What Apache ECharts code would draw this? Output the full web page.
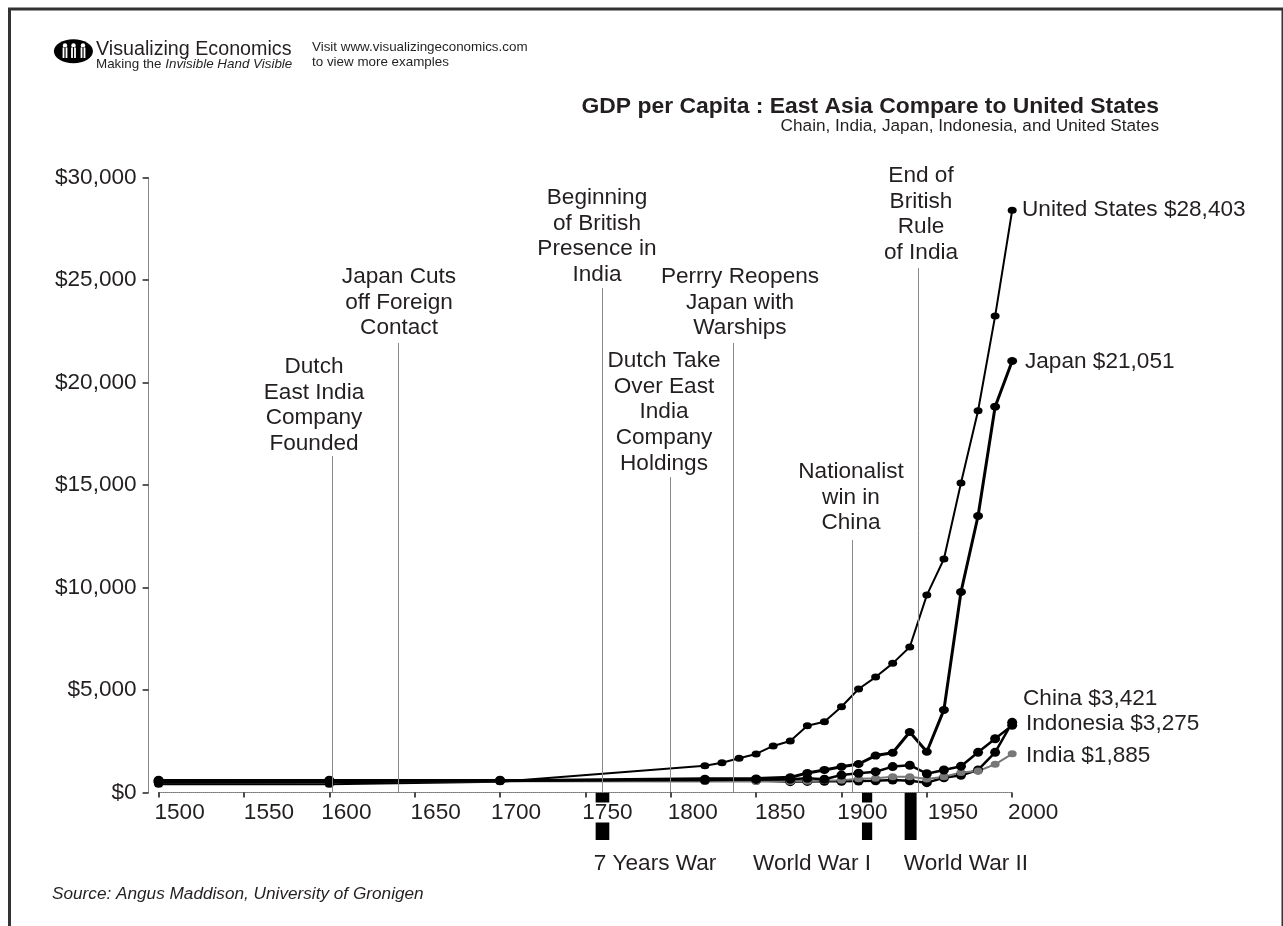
<!DOCTYPE html>
<html>
<head>
<meta charset="utf-8">
<style>html,body{margin:0;padding:0;background:#fff}#chart{width:1283px;height:926px}</style>
<script src="https://cdn.jsdelivr.net/npm/echarts@6/dist/echarts.min.js"></script>
</head>
<body>
<div id="chart"></div>
<script>
// GDP per capita, East Asia against the United States (Maddison estimates)
const usYears = [1500,1600,1700,1820,1830,1840,1850,1860,1870,1880,1890,1900,1910,1920,1930,1940,1950,1960,1970,1980,1990,2000];
const usValues = [400,400,527,1300,1450,1670,1880,2270,2510,3260,3450,4185,5050,5630,6300,7100,9630,11390,15100,18620,23240,28403];
const asiaYears = [1500,1600,1700,1820,1850,1870,1880,1890,1900,1910,1920,1930,1940,1950,1960,1970,1980,1990,2000];
const japanValues = [500,520,570,670,680,740,950,1100,1260,1390,1800,1940,2950,1990,4030,9780,13490,18820,21051];
const indonesiaValues = [565,565,580,612,640,650,690,645,850,940,1015,1263,1330,917,1100,1285,1960,2620,3275];
const chinaValues = [600,600,600,600,600,530,540,545,545,560,570,610,575,480,720,840,1100,1960,3421];
const indiaValues = [550,550,550,533,533,533,550,580,600,670,700,770,770,660,770,980,1050,1375,1885];

const xTicks = [1500,1550,1600,1650,1700,1750,1800,1850,1900,1950,2000];
const xLabelShift = [21,25,17,21,16,22,22,24,21,26,21];

const eventYears = [1602,1640.5,1760,1799.5,1836.5,1906.5,1945];
const eventTops = [16415,21930,24610,15390,21930,12317,25585];
const eventLabels = [
  'Dutch\nEast India\nCompany\nFounded',
  'Japan Cuts\noff Foreign\nContact',
  'Beginning\nof British\nPresence in\nIndia',
  'Dutch Take\nOver East\nIndia\nCompany\nHoldings',
  'Perrry Reopens\nJapan with\nWarships',
  'Nationalist\nwin in\nChina',
  'End of\nBritish\nRule\nof India'
];
const eventLabelX = [314,399,597,664,740,851,921];
const eventLabelY = [354,264,185,348,264,459,163];

const warNames = ['7 Years War','World War I','World War II'];
const warStart = [1756,1912,1937];
const warEnd = [1764,1918,1944];

const INK = '#231f20';
const FAMILY = '"Liberation Sans", Arial, sans-serif';
const BIG = 22.6;

function pairs(xs, ys) { return xs.map((x, i) => [x, ys[i]]); }

function lineSeries(name, years, values, color, width, size) {
  return {
    name, type: 'line', data: pairs(years, values), xAxisIndex: 0, yAxisIndex: 0,
    symbol: 'circle', symbolSize: size, showSymbol: true, showAllSymbols: true,
    animation: false, silent: true, z: 3,
    lineStyle: { color, width }, itemStyle: { color }
  };
}

function text(str, x, y, size, opts) {
  return {
    type: 'text', silent: true, z: 20,
    style: Object.assign({
      text: str, x, y, fill: INK, textAlign: 'left', textVerticalAlign: 'middle',
      font: size + 'px ' + FAMILY
    }, opts || {})
  };
}

// Logo: black oval holding three pale figures
const logoFigures = [65, 73.5, 83].map(cx => ({
  type: 'group', children: [
    { type: 'circle', shape: { cx, cy: 45.5, r: 2.2 }, style: { fill: '#fff' }, z: 21, silent: true },
    { type: 'rect', shape: { x: cx - 2.4, y: 47.5, width: 4.8, height: 10.5 }, style: { fill: '#fff' }, z: 21, silent: true },
    { type: 'rect', shape: { x: cx - 0.6, y: 47, width: 1.2, height: 11 }, style: { fill: '#000' }, z: 22, silent: true }
  ]
}));

const rich = {
  year: { fontSize: BIG, fontFamily: FAMILY, color: INK, backgroundColor: '#fff', height: 20, lineHeight: 20 }
};
xLabelShift.forEach((s, i) => { rich['gap' + i] = { width: s * 2, height: 20 }; });

const graphics = [
  { type: 'rect', shape: { x: 8, y: 8, width: 3, height: 918 }, style: { fill: '#333' }, silent: true },
  { type: 'rect', shape: { x: 8, y: 7.5, width: 1275, height: 3 }, style: { fill: '#333' }, silent: true },
  { type: 'rect', shape: { x: 1281.5, y: 8, width: 1.5, height: 918 }, style: { fill: '#333' }, silent: true },
  { type: 'ellipse', shape: { cx: 73.4, cy: 51.3, rx: 19.5, ry: 12 }, style: { fill: '#000' }, z: 20, silent: true },
  ...logoFigures,
  text('Visualizing Economics', 96, 49.5, 19.7),
  text('{a|Making the }{b|Invisible Hand Visible}', 96, 64.5, 13.4, {
    rich: { a: { font: '13.4px ' + FAMILY, fill: INK }, b: { font: 'italic 13.4px ' + FAMILY, fill: INK } }
  }),
  text('Visit www.visualizingeconomics.com', 312, 47.5, 13.4),
  text('to view more examples', 312, 62.7, 13.4),
  text('GDP per Capita : East Asia Compare to United States', 1159, 106.5, 22.9, { textAlign: 'right', font: 'bold 22.9px ' + FAMILY }),
  text('Chain, India, Japan, Indonesia, and United States', 1159, 126, 17.2, { textAlign: 'right' }),
  text('United States $28,403', 1022, 209.5, BIG),
  text('Japan $21,051', 1025, 361.5, BIG),
  text('China $3,421', 1023, 698.5, BIG),
  text('Indonesia $3,275', 1026, 723.5, BIG),
  text('India $1,885', 1026, 755.5, BIG),
  text(warNames[0], 655, 863.5, BIG, { textAlign: 'center' }),
  text(warNames[1], 812, 863.5, BIG, { textAlign: 'center' }),
  text(warNames[2], 966, 863.5, BIG, { textAlign: 'center' }),
  text('Source: Angus Maddison, University of Gronigen', 52, 894, 17.2, { font: 'italic 17.2px ' + FAMILY }),
  ...eventLabels.map((s, i) => ({
    type: 'text', silent: true, z: 20,
    style: { text: s, x: eventLabelX[i], y: eventLabelY[i], fill: INK, textAlign: 'center', lineHeight: 25.7, font: BIG + 'px ' + FAMILY }
  }))
];

const option = {
  backgroundColor: '#fff',
  animation: false,
  graphic: graphics,
  grid: [
    { left: 158.6, width: 853.6, top: 177.5, height: 615 },
    { left: 158.6, width: 853.6, top: 792, height: 48 }
  ],
  xAxis: [
    {
      type: 'value', gridIndex: 0, min: xTicks[0], max: xTicks[xTicks.length - 1], interval: 50, z: 5,
      splitLine: { show: false },
      axisLine: { onZero: false, lineStyle: { color: '#777', width: 1, type: 'dotted' } },
      axisTick: { show: true, length: 5, lineStyle: { color: '#111', width: 1.5 } },
      axisLabel: {
        margin: 10, showMinLabel: true, showMaxLabel: true, hideOverlap: false,
        formatter: v => '{gap' + xTicks.indexOf(v) + '|}{year|' + v + '}',
        rich
      }
    },
    { type: 'value', gridIndex: 1, min: 1500, max: 2000, show: false }
  ],
  yAxis: [
    {
      type: 'value', gridIndex: 0, min: 0, max: 30000, interval: 5000, offset: 10,
      splitLine: { show: false },
      axisLine: { show: true, onZero: false, lineStyle: { color: '#888', width: 1 } },
      axisTick: { show: true, length: 6, lineStyle: { color: '#222', width: 1.5 } },
      axisLabel: {
        margin: 12, fontSize: BIG, fontFamily: FAMILY, color: INK,
        formatter: v => '$' + v.toLocaleString('en-US')
      }
    },
    { type: 'value', gridIndex: 1, min: 0, max: 1, show: false }
  ],
  series: [
    {
      name: 'Wars', type: 'custom', xAxisIndex: 1, yAxisIndex: 1, z: -1, silent: true,
      data: warStart.map((s, i) => [s, warEnd[i]]),
      encode: { x: [0, 1] },
      renderItem(params, api) {
        const a = api.coord([api.value(0), 1]);
        const b = api.coord([api.value(1), 0]);
        return { type: 'rect', shape: { x: a[0], y: a[1], width: b[0] - a[0], height: b[1] - a[1] }, style: { fill: '#000' } };
      }
    },
    {
      name: 'Events', type: 'line', data: [], silent: true, z: 1,
      markLine: {
        silent: true, symbol: 'none', animation: false,
        label: { show: false },
        lineStyle: { color: '#8a8a8a', width: 1, type: 'solid' },
        data: eventYears.map((y, i) => [{ coord: [y, 0] }, { coord: [y, eventTops[i]] }])
      }
    },
    lineSeries('United States', usYears, usValues, '#000', 2, [9, 7]),
    lineSeries('China', asiaYears, chinaValues, '#000', 2.5, [10, 9]),
    lineSeries('India', asiaYears, indiaValues, '#777', 2, [9, 7]),
    lineSeries('Indonesia', asiaYears, indonesiaValues, '#000', 2.5, [10, 9]),
    lineSeries('Japan', asiaYears, japanValues, '#000', 3, [10, 8])
  ]
};

echarts.init(document.getElementById('chart'), null, { renderer: 'canvas' }).setOption(option);
</script>
</body>
</html>
